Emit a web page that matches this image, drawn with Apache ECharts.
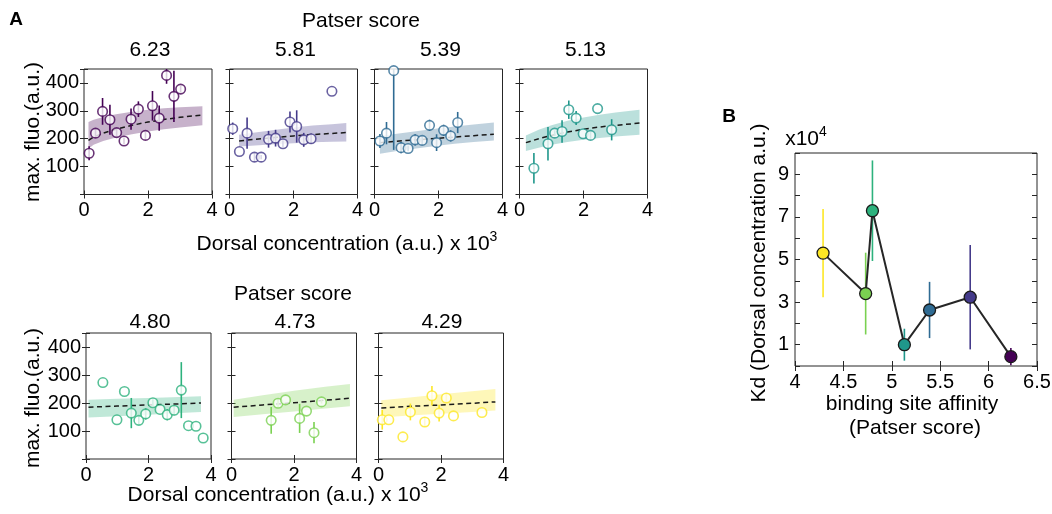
<!DOCTYPE html>
<html><head><meta charset="utf-8">
<script src="https://cdn.jsdelivr.net/npm/echarts@6/dist/echarts.min.js"></script>
<style>html,body{margin:0;padding:0;background:#fff}#c{width:1052px;height:514px}</style>
</head><body><div id="c"></div>
<script>
// ---------------- DATA ----------------
const scores = ['6.23','5.81','5.39','5.13','4.80','4.73','4.29'];
const colors = ['#440154','#443a8a','#2f6b93','#1f978b','#2db27d','#7ad151','#fde725'];

// Patser 6.23
const s623_x   = [0.16,0.36,0.58,0.81,1.02,1.25,1.47,1.70,1.92,2.14,2.35,2.58,2.81,3.02];
const s623_y   = [148,220,298,268,222,192,270,306,212,318,274,427,352,378];
const s623_err = [25,16,48,54,15,12,38,28,12,53,45,30,92,12];
const s623_fx  = [0.14,0.3,0.6,1.0,1.5,2.0,2.5,3.0,3.7];
const s623_fit = [194,206,220,234,248,260,269,277,285];
const s623_lo  = [164,178,192,204,216,226,234,240,248];
const s623_hi  = [260,268,278,288,297,304,309,313,316];
// Patser 5.81
const s581_x   = [0.10,0.31,0.55,0.78,0.99,1.22,1.44,1.67,1.89,2.10,2.32,2.55,3.20];
const s581_y   = [236,154,220,134,134,198,202,182,260,244,196,200,370];
const s581_err = [22,0,56,15,8,30,30,12,38,58,25,18,0];
const s581_fx  = [0.3,0.8,1.4,2.0,2.6,3.2,3.65];
const s581_fit = [192,198,204,210,215,219,222];
const s581_lo  = [172,176,180,184,187,189,190];
const s581_hi  = [214,222,231,240,247,252,256];
// Patser 5.39
const s539_x   = [0.17,0.375,0.60,0.83,1.05,1.27,1.49,1.72,1.94,2.16,2.38,2.60];
const s539_y   = [192,220,444,168,165,196,194,248,186,230,210,258];
const s539_err = [25,40,284,20,10,20,15,20,30,20,20,38];
const s539_fx  = [0.17,0.7,1.3,1.9,2.5,3.1,3.73];
const s539_fit = [186,191,196,201,206,211,216];
const s539_lo  = [146,156,165,174,182,188,194];
const s539_hi  = [210,218,227,236,244,251,258];
// Patser 5.13
const s513_x   = [0.45,0.89,1.10,1.33,1.54,1.77,1.99,2.22,2.44,2.88];
const s513_y   = [94,182,220,226,304,274,218,212,308,232];
const s513_err = [55,60,10,40,33,25,0,12,0,38];
const s513_fx  = [0.2,0.6,1.0,1.5,2.0,2.5,3.0,3.75];
const s513_fit = [186,200,212,224,234,242,248,256];
const s513_lo  = [156,168,178,188,196,203,208,214];
const s513_hi  = [212,232,248,264,276,286,294,304];
// Patser 4.80
const s480_x   = [0.54,0.99,1.23,1.45,1.69,1.91,2.14,2.37,2.60,2.82,3.05,3.28,3.52,3.75];
const s480_y   = [273,140,241,164,138,161,201,177,158,174,246,119,117,75];
const s480_err = [0,0,0,54,15,20,12,0,20,18,100,0,0,0];
const s480_fx  = [0.08,1.0,2.0,3.0,3.68];
const s480_fit = [185,189,193,197,200];
const s480_lo  = [148,153,158,164,168];
const s480_hi  = [212,215,218,221,224];
// Patser 4.73
const s473_x   = [1.27,1.49,1.73,2.18,2.40,2.64,2.88];
const s473_y   = [138,199,211,145,171,94,204];
const s473_err = [48,15,0,52,0,38,6];
const s473_fx  = [0.07,1.0,2.0,3.0,3.79];
const s473_fit = [185,193,201,210,217];
const s473_lo  = [150,160,170,180,188];
const s473_hi  = [212,228,244,258,268];
// Patser 4.29
const s429_x   = [0.12,0.33,0.78,1.02,1.48,1.71,1.94,2.17,2.40,3.31];
const s429_y   = [140,140,79,168,132,226,164,218,154,166];
const s429_err = [35,0,0,30,15,35,30,15,0,0];
const s429_fx  = [0.09,1.0,2.0,3.0,3.74];
const s429_fit = [182,188,193,199,204];
const s429_lo  = [148,155,162,168,173];
const s429_hi  = [210,220,231,242,250];

// Panel B (Kd, x10^4)
const kdScore = [4.29,4.73,4.80,5.13,5.39,5.81,6.23];
const kdVal   = [5.30,3.40,7.29,1.00,2.63,3.23,0.44];
const kdErr   = [2.07,1.92,2.36,0.75,1.32,2.45,0.40];
const kdColors = ['#fde725','#7ad151','#2db27d','#1f978b','#2f6b93','#443a8a','#440154'];

const xTicksSmall = [0,2,4];
const yTicksSmall = [100,200,300,400];

// ---------------- BUILD ----------------
const FONT = 'Liberation Sans, Arial, sans-serif';
const panelData = [
  [s623_x,s623_y,s623_err,s623_fx,s623_fit,s623_lo,s623_hi],
  [s581_x,s581_y,s581_err,s581_fx,s581_fit,s581_lo,s581_hi],
  [s539_x,s539_y,s539_err,s539_fx,s539_fit,s539_lo,s539_hi],
  [s513_x,s513_y,s513_err,s513_fx,s513_fit,s513_lo,s513_hi],
  [s480_x,s480_y,s480_err,s480_fx,s480_fit,s480_lo,s480_hi],
  [s473_x,s473_y,s473_err,s473_fx,s473_fit,s473_lo,s473_hi],
  [s429_x,s429_y,s429_err,s429_fx,s429_fit,s429_lo,s429_hi]
];
const layout = [
  {left:84, top:69, width:128, height:125.5},
  {left:229.5, top:69, width:128, height:125.5},
  {left:374.5, top:69, width:128, height:125.5},
  {left:519.5, top:69, width:128, height:125.5},
  {left:86, top:333, width:125, height:126},
  {left:231.5, top:333, width:125, height:126},
  {left:378.5, top:333, width:125, height:126}
];
const YMAX = 450;

function rgba(hex, a){
  const n = parseInt(hex.slice(1),16);
  return 'rgba(' + ((n>>16)&255) + ',' + ((n>>8)&255) + ',' + (n&255) + ',' + a + ')';
}

const grids=[], xAxes=[], yAxes=[], series=[];
const tickStyle = {inside:true, length:4, lineStyle:{color:'#262626', width:1}};

layout.forEach((L,i)=>{
  grids.push(Object.assign({show:true, borderColor:'#262626', borderWidth:1, backgroundColor:'#fff', outerBoundsMode:'none'}, L));
  xAxes.push({gridIndex:i, type:'value', min:0, max:4, interval:2, axisLine:{show:false}, splitLine:{show:false},
    axisTick:tickStyle, axisLabel:{fontSize:20, fontFamily:FONT, color:'#000', margin:6,
      formatter:v=> xTicksSmall.indexOf(v)>=0 ? String(v) : ''}});
  xAxes.push({gridIndex:i, type:'value', position:'top', min:0, max:4, interval:2, axisLine:{show:false}, splitLine:{show:false}, axisTick:tickStyle, axisLabel:{show:false}});
  const showY = (i===0 || i===4);
  yAxes.push({gridIndex:i, type:'value', min:0, max:YMAX, interval:100, axisLine:{show:false}, splitLine:{show:false},
    axisTick:tickStyle, axisLabel:{show:showY, fontSize:20, fontFamily:FONT, color:'#000', margin:5,
      formatter:v=> yTicksSmall.indexOf(v)>=0 ? String(v) : ''}});
  yAxes.push({gridIndex:i, type:'value', position:'right', min:0, max:YMAX, interval:100, axisLine:{show:false}, splitLine:{show:false}, axisTick:tickStyle, axisLabel:{show:false}});

  const [px,py,pe,fx,fit,lo,hi] = panelData[i];
  const col = colors[i];
  series.push({type:'custom', xAxisIndex:2*i, yAxisIndex:2*i, z:1, silent:true,
    data: fx.map((x,j)=>[x, lo[j], hi[j]]),
    renderItem:(params, api)=>{
      if (params.dataIndex!==0) return null;
      const pts=[];
      for (let j=0;j<fx.length;j++) pts.push(api.coord([fx[j], hi[j]]));
      for (let j=fx.length-1;j>=0;j--) pts.push(api.coord([fx[j], lo[j]]));
      return {type:'polygon', shape:{points:pts}, style:{fill:rgba(col, i===6?0.32:0.3), stroke:null}};
    }});
  series.push({type:'line', xAxisIndex:2*i, yAxisIndex:2*i, z:2, showSymbol:false, silent:true,
    data: fx.map((x,j)=>[x, fit[j]]),
    lineStyle:{color:'#1a1a1a', width:1.5, type:[5,3.5]}});
  series.push({type:'custom', xAxisIndex:2*i, yAxisIndex:2*i, z:3, silent:true,
    data: px.map((x,j)=>[x, py[j], pe[j]]),
    renderItem:(params, api)=>{
      const x=api.value(0), y=api.value(1), e=api.value(2);
      if (!e) return null;
      const a=api.coord([x, Math.max(0,y-e)]), b=api.coord([x, Math.min(YMAX,y+e)]);
      return {type:'line', shape:{x1:a[0],y1:a[1],x2:b[0],y2:b[1]}, style:{stroke:col, lineWidth:1.6}};
    }});
  series.push({type:'scatter', xAxisIndex:2*i, yAxisIndex:2*i, z:4, silent:true,
    data: px.map((x,j)=>[x, py[j]]), symbol:'circle', symbolSize:9.5,
    itemStyle:{color:'#fff', borderColor:col, borderWidth:1.6}});
});

// Panel B
const bi = layout.length;
grids.push({left:795, top:153, width:242, height:213, show:true, borderColor:'#262626', borderWidth:1, backgroundColor:'#fff', outerBoundsMode:'none'});
xAxes.push({gridIndex:bi, type:'value', min:4, max:6.5, interval:0.5, axisLine:{show:false}, splitLine:{show:false}, axisTick:{inside:true,length:5,lineStyle:{color:'#262626'}},
  axisLabel:{fontSize:20, fontFamily:FONT, color:'#000', margin:6}});
xAxes.push({gridIndex:bi, type:'value', position:'top', min:4, max:6.5, interval:0.5, axisLine:{show:false}, splitLine:{show:false}, axisTick:{inside:true,length:5,lineStyle:{color:'#262626'}}, axisLabel:{show:false}});
yAxes.push({gridIndex:bi, type:'value', min:0, max:10, interval:1, axisLine:{show:false}, splitLine:{show:false}, axisTick:{inside:true,length:5,lineStyle:{color:'#262626'}},
  axisLabel:{fontSize:20, fontFamily:FONT, color:'#000', margin:6, formatter:v=> (v%2===1) ? String(v) : ''}});
yAxes.push({gridIndex:bi, type:'value', position:'right', min:0, max:10, interval:1, axisLine:{show:false}, splitLine:{show:false}, axisTick:{inside:true,length:5,lineStyle:{color:'#262626'}}, axisLabel:{show:false}});

series.push({type:'custom', xAxisIndex:2*bi, yAxisIndex:2*bi, z:1, silent:true,
  data: kdScore.map((x,j)=>[x, kdVal[j], kdErr[j]]),
  renderItem:(params, api)=>{
    const x=api.value(0), y=api.value(1), e=api.value(2);
    const a=api.coord([x, Math.max(0,y-e)]), b=api.coord([x, y+e]);
    return {type:'line', shape:{x1:a[0],y1:a[1],x2:b[0],y2:b[1]}, style:{stroke:kdColors[params.dataIndex], lineWidth:1.6}};
  }});
series.push({type:'line', xAxisIndex:2*bi, yAxisIndex:2*bi, z:2, silent:true,
  data: kdScore.map((x,j)=>({value:[x, kdVal[j]], itemStyle:{color:kdColors[j], borderColor:'#1a1a1a', borderWidth:1.3}})),
  symbol:'circle', symbolSize:12, showSymbol:true,
  lineStyle:{color:'#262626', width:2}});

// ---------------- TEXT ----------------
function txt(text, x, y, size, opts){
  return Object.assign({type:'text', x:x, y:y, silent:true,
    style:{text:text, font:(opts&&opts.bold?'bold ':'') + size + 'px ' + FONT, fill:'#000', textAlign:'center', textVerticalAlign:'middle'}}, opts&&opts.extra||{});
}
function supTxt(main, sup, x, y){
  return {type:'text', x:x, y:y, silent:true, style:{
    text:'{a|' + main + '}{s|' + sup + '}', textAlign:'center', textVerticalAlign:'middle',
    rich:{a:{fontSize:21, fontFamily:FONT, color:'#000', lineHeight:28},
          s:{fontSize:14, fontFamily:FONT, color:'#000', verticalAlign:'top', lineHeight:14}}}};
}
const graphics = [
  txt('A', 16, 20, 19, {bold:true}),
  txt('B', 729, 117, 19, {bold:true}),
  txt('Patser score', 361, 21, 21),
  txt('Patser score', 293, 294, 21),
  supTxt('Dorsal concentration (a.u.) x 10', '3', 347, 244),
  supTxt('Dorsal concentration (a.u.) x 10', '3', 278, 495),
  txt('max. fluo.(a.u.)', 33, 132, 21, {extra:{rotation:Math.PI/2}}),
  txt('max. fluo.(a.u.)', 33, 398, 21, {extra:{rotation:Math.PI/2}}),
  txt('Kd (Dorsal concentration a.u.)', 759, 263, 21, {extra:{rotation:Math.PI/2}}),
  txt('binding site affinity', 912, 404, 21),
  txt('(Patser score)', 915, 428, 21),
  supTxt('x10', '4', 806, 139)
];
const scoreX = [150, 295.5, 440.5, 585.5, 150, 295, 442];
scores.forEach((s,i)=>{ graphics.push(txt(s, scoreX[i], i<4 ? 50 : 322, 21)); });

const chart = echarts.init(document.getElementById('c'), null, {renderer:'canvas'});
chart.setOption({animation:false, backgroundColor:'#fff', grid:grids, xAxis:xAxes, yAxis:yAxes, series:series, graphic:graphics});
</script></body></html>
